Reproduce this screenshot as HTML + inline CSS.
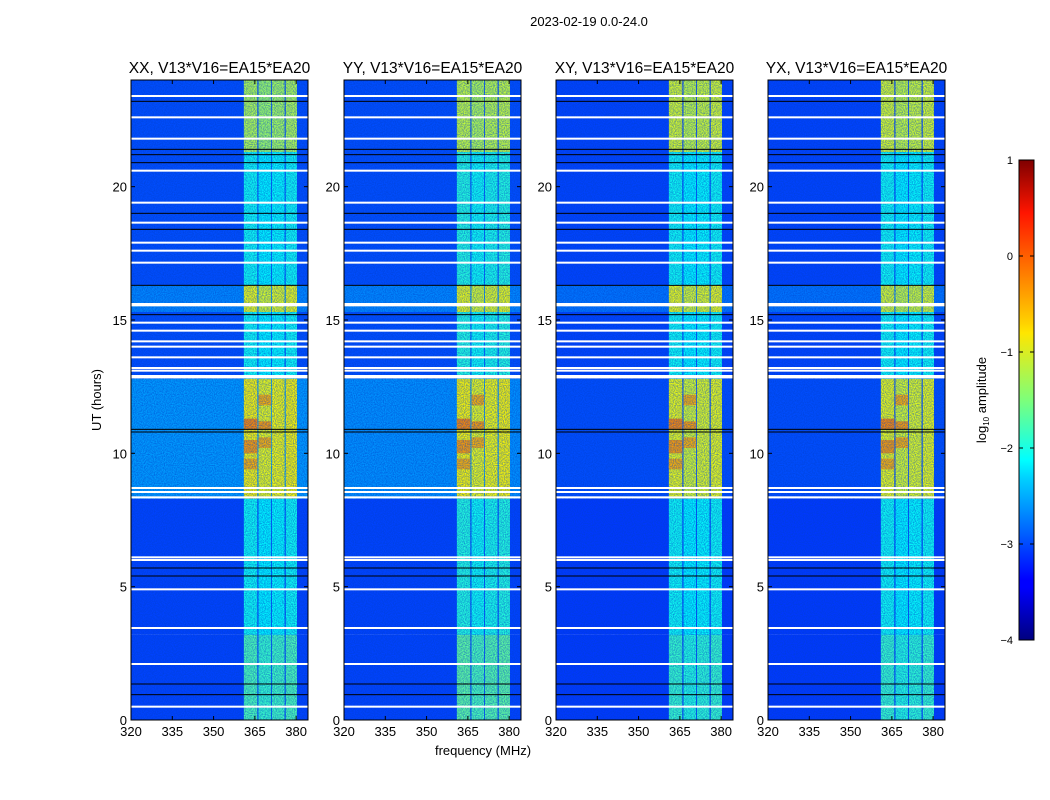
<!DOCTYPE html>
<html><head><meta charset="utf-8"><style>
body{margin:0;background:#fff;}
svg{display:block;font-family:"Liberation Sans",sans-serif;}
</style></head><body>
<svg id="fig" width="1050" height="800" viewBox="0 0 1050 800">
<defs>
<linearGradient id="jet" x1="0" y1="1" x2="0" y2="0">
<stop offset="0" stop-color="#00007f"/><stop offset="0.11" stop-color="#0000ff"/><stop offset="0.125" stop-color="#0000ff"/>
<stop offset="0.34" stop-color="#00d4ff"/><stop offset="0.375" stop-color="#00ffff"/><stop offset="0.5" stop-color="#7dff7a"/>
<stop offset="0.64" stop-color="#ffe600"/><stop offset="0.66" stop-color="#ffd200"/><stop offset="0.89" stop-color="#ff1500"/>
<stop offset="1" stop-color="#7f0000"/>
</linearGradient>
<filter id="noise" x="0" y="0" width="100%" height="100%">
<feTurbulence type="fractalNoise" baseFrequency="0.9" numOctaves="1" seed="3"/>
<feColorMatrix values="0 0 0 0 0  0 0 0 0 0.05  0 0 0 0 0.6  0 0 0 1.2 -0.35"/>
</filter>
</defs>
<text x="589" y="26" font-size="13" text-anchor="middle">2023-02-19 0.0-24.0</text>
<text x="483" y="755" font-size="13" text-anchor="middle">frequency (MHz)</text>
<text transform="translate(101,400) rotate(-90)" font-size="13" text-anchor="middle">UT (hours)</text>
<g id="panels"></g>
<g>
<rect x="1019" y="160" width="15" height="480" fill="url(#jet)" stroke="#000" stroke-width="1"/>
<g id="cbticks"></g>
<text transform="translate(986,400) rotate(-90)" font-size="13" text-anchor="middle">log<tspan font-size="8" dy="3">10</tspan><tspan dy="-3"> amplitude</tspan></text>
</g>
</svg>
<script>
const panelTitles = ["XX, V13*V16=EA15*EA20","YY, V13*V16=EA15*EA20","XY, V13*V16=EA15*EA20","YX, V13*V16=EA15*EA20"];
const xTicks = [320,335,350,365,380];
const yTicks = [0,5,10,15,20];
const cbTicks = [1,0,-1,-2,-3,-4];
const segStart = [0,3.2,8.3,12.8,15.3,16.3,21.3];
const segEnd = [3.2,8.3,12.8,15.3,16.3,21.3,24];
const bgLevels = [
 [-3.05,-3.05,-2.6,-3.0,-2.7,-3.0,-3.0],
 [-3.05,-3.05,-2.65,-3.0,-2.7,-3.0,-3.0],
 [-3.1,-3.1,-3.0,-3.05,-2.8,-3.05,-3.05],
 [-3.1,-3.1,-3.0,-3.05,-2.8,-3.05,-3.05]];
const bandLevels = [
 [-1.8,-2.1,-0.9,-2.1,-1.0,-2.1,-1.3],
 [-1.7,-2.0,-0.9,-2.0,-1.0,-2.0,-1.2],
 [-1.9,-2.1,-1.0,-2.1,-1.0,-2.1,-1.1],
 [-1.9,-2.1,-1.0,-2.1,-1.1,-2.1,-1.1]];
const subStart = [361,366.3,371.2,376.2];
const subEnd = [365.9,370.9,375.8,380.3];
const subOffset = [0.05,-0.05,0.0,0.05];
const spotT0 = [10.0,10.9,11.8,10.2,9.4,10.9];
const spotT1 = [10.5,11.3,12.2,10.6,9.8,11.2];
const spotSub = [0,0,1,1,0,1];
const spotVal = [-0.4,-0.3,-0.5,-0.5,-0.5,-0.4];
const whiteLines = [23.4,22.6,21.8,20.6,19.4,18.65,17.9,17.6,17.15,15.6,15.55,14.9,14.6,14.2,14.0,13.6,13.2,13.1,12.9,12.85,8.7,8.55,8.35,6.1,6.0,4.9,3.45,2.1,0.5];
const blackLines = [23.2,21.4,21.2,20.9,19.0,18.4,16.3,15.2,10.9,10.8,5.7,5.4,1.35,0.95];

const NS="http://www.w3.org/2000/svg";
const lefts=[131,344,556,768], W=177, TOP=80, BOT=720;
const fMin=320, fMax=384.3, tMax=24;
function jet(v){const n=Math.max(0,Math.min(1,(v+4)/5));const c=x=>Math.round(255*Math.max(0,Math.min(1,1.5-Math.abs(4*n-x))));return `rgb(${c(3)},${c(2)},${c(1)})`;}
function mk(tag,attrs,parent){const e=document.createElementNS(NS,tag);for(const k in attrs)e.setAttribute(k,attrs[k]);parent.appendChild(e);return e;}
const root=document.getElementById('panels');
panelTitles.forEach((title,p)=>{
 const L=lefts[p];
 const xs=f=>L+(f-fMin)/(fMax-fMin)*W;
 const ys=t=>BOT-t/tMax*(BOT-TOP);
 const g=mk('g',{},root);
 
 
 const cp=mk('clipPath',{id:'cp'+p},g);mk('rect',{x:L,y:TOP,width:W,height:BOT-TOP},cp);
 const hm=mk('g',{'clip-path':`url(#cp${p})`},g);
 
 
 segStart.forEach((t0,s)=>{
  const t1=segEnd[s];
  const r=mk('rect',{x:L,y:ys(t1),width:W,height:ys(t0)-ys(t1),fill:jet(bgLevels[p][s])},hm);
  
  
  subStart.forEach((f0,k)=>{
   const c=mk('rect',{x:xs(f0),y:ys(t1),width:xs(subEnd[k])-xs(f0),height:ys(t0)-ys(t1),fill:jet(bandLevels[p][s]+subOffset[k])},hm);
   
   
  });
 });
 spotT0.forEach((t0,i)=>{
  const k=spotSub[i];
  const c=mk('rect',{x:xs(subStart[k]),y:ys(spotT1[i]),width:xs(subEnd[k])-xs(subStart[k]),height:ys(t0)-ys(spotT1[i]),fill:jet(spotVal[i])},hm);
  
  
 });
 mk('rect',{x:L,y:TOP,width:W,height:BOT-TOP,filter:'url(#noise)'},hm);
 whiteLines.forEach(t=>{const l=mk('rect',{x:L,y:ys(t)-1,width:W,height:2,fill:'#fff'},hm);
  
  });
 blackLines.forEach(t=>{const l=mk('rect',{x:L,y:ys(t)-0.5,width:W,height:1,fill:'#000'},hm);
  
  });
 const fr=mk('rect',{x:L,y:TOP,width:W,height:BOT-TOP,fill:'none',stroke:'#000','stroke-width':1},g);
 
 
 const tt=mk('text',{x:L+W/2,y:TOP-7,'font-size':15.5,'text-anchor':'middle'},g);tt.textContent=title;
 
 
 xTicks.forEach(v=>{const x=xs(v);
  mk('line',{x1:x,y1:BOT,x2:x,y2:BOT-4,stroke:'#000'},g);mk('line',{x1:x,y1:TOP,x2:x,y2:TOP+4,stroke:'#000'},g);
  const t=mk('text',{x:x,y:BOT+16,'font-size':13,'text-anchor':'middle'},g);t.textContent=v;
  
  });
 yTicks.forEach(v=>{const y=ys(v);
  mk('line',{x1:L,y1:y,x2:L+4,y2:y,stroke:'#000'},g);mk('line',{x1:L+W,y1:y,x2:L+W-4,y2:y,stroke:'#000'},g);
  const t=mk('text',{x:L-4,y:y+5,'font-size':13,'text-anchor':'end'},g);t.textContent=v;
  
  });
});
const cb=document.getElementById('cbticks');
cbTicks.forEach(v=>{const y=160+(1-v)/5*480;
 mk('line',{x1:1019,y1:y,x2:1023,y2:y,stroke:'#000'},cb);mk('line',{x1:1034,y1:y,x2:1030,y2:y,stroke:'#000'},cb);
 const t=mk('text',{x:1013,y:y+4,'font-size':11,'text-anchor':'end'},cb);t.textContent=v<0?'\u2212'+(-v):v;
 
 });
</script>
</body></html>
